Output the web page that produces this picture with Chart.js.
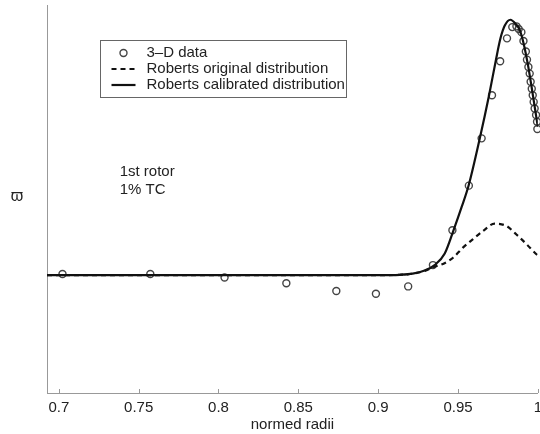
<!DOCTYPE html>
<html lang="en">
<head>
    <title>Roberts distribution</title>
    <script src="https://cdn.jsdelivr.net/npm/chart.js"></script>
    <style>
        html, body { margin: 0; background: #fff; overflow: hidden; }
        canvas { display: block; }
    </style>
</head>
<body>

<canvas id="chart" width="549" height="434"></canvas>

<script>
    // 3-D data (circles)
    var dataRadii = [0.7023, 0.7573, 0.8038, 0.8425, 0.8738, 0.8986, 0.9188, 0.9343, 0.9465, 0.9568,
        0.9648, 0.9713, 0.9764, 0.9807, 0.9840, 0.9866, 0.9880, 0.9897, 0.9910, 0.9925,
        0.9932, 0.9941, 0.9949, 0.9955, 0.9962, 0.9968, 0.9974, 0.9980, 0.9989, 0.9995, 0.9997];
    var dataLoss = [0.307, 0.307, 0.298, 0.283, 0.263, 0.256, 0.275, 0.330, 0.420, 0.535,
        0.657, 0.768, 0.856, 0.915, 0.944, 0.946, 0.939, 0.931, 0.908, 0.881,
        0.860, 0.841, 0.824, 0.803, 0.785, 0.768, 0.751, 0.734, 0.717, 0.700, 0.681];

    // Roberts original distribution (dashed)
    var origRadii = [0.6926, 0.75, 0.80, 0.85, 0.90, 0.9135, 0.9216, 0.9291, 0.9354, 0.9406,
        0.9469, 0.9531, 0.9594, 0.9657, 0.9730, 0.9803, 0.9866, 0.9929, 0.9991, 1.0];
    var origLoss = [0.304, 0.304, 0.304, 0.304, 0.304, 0.305, 0.308, 0.315, 0.326, 0.333,
        0.349, 0.375, 0.397, 0.418, 0.437, 0.431, 0.409, 0.384, 0.358, 0.355];

    // Roberts calibrated distribution (solid)
    var calRadii = [0.6926, 0.75, 0.80, 0.85, 0.90, 0.9135, 0.9216, 0.9291, 0.9354, 0.9417,
        0.9473, 0.9523, 0.9567, 0.9636, 0.9694, 0.9736, 0.9766, 0.9793, 0.9828, 0.9862,
        0.9887, 0.9912, 0.9937, 0.9962, 0.9987, 1.0];
    var calLoss = [0.304, 0.304, 0.304, 0.304, 0.304, 0.305, 0.308, 0.316, 0.330, 0.360,
        0.421, 0.480, 0.536, 0.656, 0.767, 0.856, 0.915, 0.948, 0.963, 0.952,
        0.936, 0.900, 0.849, 0.787, 0.721, 0.687];

    var seriesLabels = ["3\u2013D data", "Roberts original distribution", "Roberts calibrated distribution"];
    var noteLines = ["1st rotor", "1% TC"];
    var xTitle = "normed radii";
    var yTitle = "\u03D6";

    var FONT = "'Liberation Sans', Arial, sans-serif";

    function toPoints(xs, ys) {
        var pts = [];
        for (var i = 0; i < xs.length; i++) {
            pts.push({ x: xs[i], y: ys[i] });
        }
        return pts;
    }

    // inward ticks, y label, note text and the boxed legend
    var extras = {
        id: "extras",
        afterDraw: function(chart) {
            var ctx = chart.ctx;
            var area = chart.chartArea;
            var xs = chart.scales.x;
            var ys = chart.scales.y;

            ctx.save();
            ctx.strokeStyle = "#999";
            ctx.lineWidth = 1;
            xs.ticks.forEach(function(t) {
                var px = Math.round(xs.getPixelForValue(t.value)) + 0.5;
                ctx.beginPath();
                ctx.moveTo(px, area.bottom);
                ctx.lineTo(px, area.bottom - 4);
                ctx.stroke();
            });

            ctx.fillStyle = "#222";
            ctx.font = "16px " + FONT;
            ctx.textAlign = "center";
            ctx.textBaseline = "middle";
            ctx.fillText(yTitle, area.left - 30, (area.top + area.bottom) / 2 - 3);

            ctx.font = "15px " + FONT;
            ctx.textAlign = "left";
            var nx = xs.getPixelForValue(0.7381);
            var ny = ys.getPixelForValue(0.57);
            noteLines.forEach(function(line, i) {
                ctx.fillText(line, nx, ny + i * 18);
            });

            // legend box
            var bx = area.left + 53.5, by = 40.5, bw = 246, bh = 57;
            ctx.fillStyle = "#fff";
            ctx.fillRect(bx, by, bw, bh);
            ctx.strokeStyle = "#666";
            ctx.strokeRect(bx, by, bw, bh);
            chart.data.datasets.forEach(function(ds, i) {
                var rowY = by + 12.5 + i * 16;
                var mx0 = bx + 11, mx1 = bx + 35;
                ctx.strokeStyle = ds.borderColor;
                if (ds.showLine) {
                    ctx.lineWidth = ds.borderWidth;
                    ctx.setLineDash(ds.borderDash || []);
                    ctx.beginPath();
                    ctx.moveTo(mx0, rowY);
                    ctx.lineTo(mx1, rowY);
                    ctx.stroke();
                    ctx.setLineDash([]);
                } else {
                    ctx.lineWidth = ds.pointBorderWidth;
                    ctx.beginPath();
                    ctx.arc((mx0 + mx1) / 2, rowY, ds.pointRadius, 0, Math.PI * 2);
                    ctx.stroke();
                }
                ctx.fillStyle = "#222";
                ctx.fillText(ds.label, bx + 46, rowY);
            });
            ctx.restore();
        }
    };

    var ctx = document.getElementById("chart").getContext("2d");
    var myChart = new Chart(ctx, {
        type: "scatter",
        data: {
            datasets: [
                {
                    label: seriesLabels[0],
                    data: toPoints(dataRadii, dataLoss),
                    showLine: false,
                    pointRadius: 3.5,
                    pointBorderWidth: 1.4,
                    borderColor: "#444",
                    pointBorderColor: "#444",
                    pointBackgroundColor: "rgba(0,0,0,0)",
                    clip: false,
                    order: 3
                },
                {
                    label: seriesLabels[1],
                    data: toPoints(origRadii, origLoss),
                    showLine: true,
                    borderColor: "#111",
                    borderWidth: 2.2,
                    borderDash: [5, 4],
                    pointRadius: 0,
                    cubicInterpolationMode: "monotone",
                    order: 2
                },
                {
                    label: seriesLabels[2],
                    data: toPoints(calRadii, calLoss),
                    showLine: true,
                    borderColor: "#111",
                    borderWidth: 2.2,
                    pointRadius: 0,
                    cubicInterpolationMode: "monotone",
                    order: 1
                }
            ]
        },
        options: {
            responsive: false,
            animation: false,
            devicePixelRatio: 1,
            layout: { padding: { left: 47, top: 3, right: 0, bottom: 2 } },
            plugins: {
                legend: { display: false },
                tooltip: { enabled: false }
            },
            scales: {
                x: {
                    type: "linear",
                    min: 0.6926,
                    max: 1.0,
                    grid: { display: false, drawTicks: false },
                    border: { display: true, color: "#999", width: 1 },
                    ticks: {
                        stepSize: 0.05,
                        includeBounds: false,
                        autoSkip: false,
                        maxRotation: 0,
                        padding: 7,
                        color: "#222",
                        font: { family: FONT, size: 15, lineHeight: 1 },
                        callback: function(value) {
                            return String(parseFloat(value.toFixed(2)));
                        }
                    },
                    title: {
                        display: true,
                        text: xTitle,
                        color: "#222",
                        padding: { top: -5, bottom: 0 },
                        font: { family: FONT, size: 15, lineHeight: 1 }
                    }
                },
                y: {
                    type: "linear",
                    min: 0,
                    max: 1,
                    grid: { display: false, drawTicks: false },
                    border: { display: true, color: "#999", width: 1 },
                    ticks: { display: false }
                }
            }
        },
        plugins: [extras]
    });
</script>
</body>
</html>
